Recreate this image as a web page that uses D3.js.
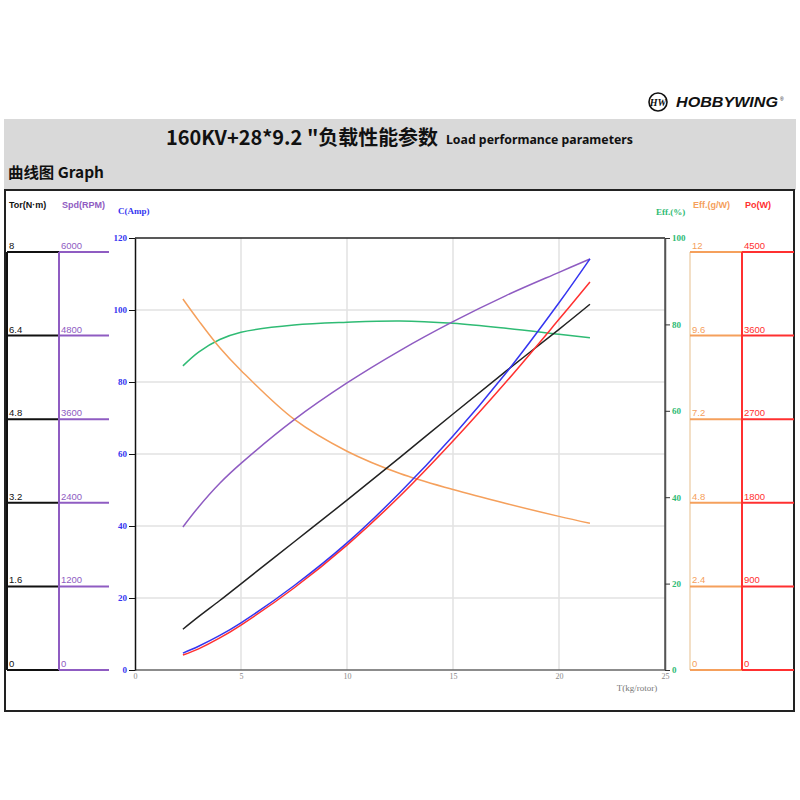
<!DOCTYPE html>
<html><head><meta charset="utf-8">
<script src="https://cdn.jsdelivr.net/npm/d3@7"></script>
<style>body{margin:0;background:#fff}svg{display:block}</style>
</head><body>
<svg id="c" width="800" height="800"></svg>
<script>
// ---- data ----
const thrust = [2.26, 3, 4, 5, 7.5, 10, 12.5, 15, 17.5, 20, 21.46];              // T (kg/rotor)
const current = [4.7, 6.6, 9.6, 13.1, 23.4, 35.3, 49.3, 65.0, 82.5, 102.0, 114.2]; // A
const power = [161, 228, 345, 484, 883, 1345, 1873, 2465, 3100, 3775, 4177];        // W
const torque = [0.78, 1.02, 1.33, 1.65, 2.45, 3.25, 4.07, 4.9, 5.72, 6.52, 7.0];   // N·m
const speed = [2053, 2340, 2680, 2965, 3590, 4120, 4585, 5000, 5374, 5708, 5900];   // RPM
const effPct = [70.4, 73.6, 76.5, 78.2, 79.85, 80.5, 80.8, 80.25, 79.1, 77.7, 76.9]; // %
const effGW = [10.65, 10.03, 9.25, 8.6, 7.2, 6.28, 5.64, 5.18, 4.78, 4.41, 4.21];    // g/W

const xTicks = [0, 5, 10, 15, 20, 25];
const cTicks = [0, 20, 40, 60, 80, 100, 120];
const effPctTicks = [0, 20, 40, 60, 80, 100];
const torTicks = [0, 1.6, 3.2, 4.8, 6.4, 8];
const spdTicks = [0, 1200, 2400, 3600, 4800, 6000];
const effGWTicks = [0, 2.4, 4.8, 7.2, 9.6, 12];
const poTicks = [0, 900, 1800, 2700, 3600, 4500];

const svg = d3.select("#c");
const COL = {blue:"#3535f0", red:"#ff3030", black:"#222", purple:"#8f5cc2", green:"#2fbb74", orange:"#f5a05c", gray:"#777"};

// header band
svg.append("rect").attr("x",4).attr("y",119).attr("width",792).attr("height",71).attr("fill","#d9d9d9");
svg.append("text").attr("x",166).attr("y",145).attr("font-family","'Noto Sans CJK SC','Noto Sans',sans-serif")
  .attr("font-weight","bold").attr("font-size",20).attr("textLength",272).attr("lengthAdjust","spacingAndGlyphs")
  .attr("fill","#111").text("160KV+28*9.2 \"负载性能参数");
svg.append("text").attr("x",446).attr("y",144).attr("font-family","'Noto Sans','DejaVu Sans',sans-serif")
  .attr("font-weight","bold").attr("font-size",13).attr("textLength",187).attr("lengthAdjust","spacingAndGlyphs")
  .attr("fill","#111").text("Load performance parameters");
svg.append("text").attr("x",8).attr("y",178).attr("font-family","'Noto Sans CJK SC','Noto Sans',sans-serif")
  .attr("font-weight","bold").attr("font-size",15).attr("textLength",96).attr("lengthAdjust","spacingAndGlyphs")
  .attr("fill","#111").text("曲线图 Graph");

// logo
const lg = svg.append("g");
lg.append("ellipse").attr("cx",658).attr("cy",102).attr("rx",9).attr("ry",9).attr("fill","none").attr("stroke","#111").attr("stroke-width",1.6);
lg.append("text").attr("x",658).attr("y",106).attr("text-anchor","middle").attr("font-family","'Liberation Serif',serif")
  .attr("font-style","italic").attr("font-weight","bold").attr("font-size",10).attr("fill","#111").text("HW");
lg.append("text").attr("x",676).attr("y",107).attr("font-family","'Liberation Sans',Arial,sans-serif")
  .attr("font-style","italic").attr("font-weight","bold").attr("font-size",14).attr("textLength",102).attr("lengthAdjust","spacingAndGlyphs")
  .attr("fill","#111").text("HOBBYWING");
lg.append("text").attr("x",780).attr("y",101).attr("font-family","sans-serif").attr("font-size",5).attr("fill","#111").text("®");

// outer box
svg.append("rect").attr("x",5).attr("y",190).attr("width",789).attr("height",521).attr("fill","none").attr("stroke","#222").attr("stroke-width",2);

// scales
const x = d3.scaleLinear().domain([0,25]).range([135,665]);
const yC = d3.scaleLinear().domain([0,120]).range([670,238]);
const yE = d3.scaleLinear().domain([0,100]).range([670,238]);
const yTor = d3.scaleLinear().domain([0,8]).range([670,252]);
const ySpd = d3.scaleLinear().domain([0,6000]).range([670,252]);
const yEG = d3.scaleLinear().domain([0,12]).range([670,252]);
const yPo = d3.scaleLinear().domain([0,4500]).range([670,252]);

// gridlines
svg.append("g").selectAll("line").data(xTicks.slice(1,-1)).join("line")
  .attr("x1",d=>x(d)).attr("x2",d=>x(d)).attr("y1",238).attr("y2",670).attr("stroke","#e2e2e2").attr("stroke-width",1.5);
svg.append("g").selectAll("line").data(cTicks.slice(1,-1)).join("line")
  .attr("x1",135).attr("x2",665).attr("y1",d=>yC(d)).attr("y2",d=>yC(d)).attr("stroke","#e2e2e2").attr("stroke-width",1.5);

// frame lines
svg.append("line").attr("x1",135).attr("x2",665).attr("y1",238).attr("y2",238).attr("stroke","#222").attr("stroke-width",1.5);
svg.append("line").attr("x1",135).attr("x2",665).attr("y1",670).attr("y2",670).attr("stroke","#666").attr("stroke-width",1.5);
svg.append("line").attr("x1",665).attr("x2",665).attr("y1",238).attr("y2",670).attr("stroke","#555").attr("stroke-width",1.5);

// left C axis
const axC = svg.append("g").attr("transform","translate(135,0)").call(d3.axisLeft(yC).tickValues(cTicks).tickSize(6).tickSizeOuter(0));
axC.select(".domain").attr("stroke","#111").attr("stroke-width",1.5);
axC.selectAll(".tick line").attr("stroke","#111");
axC.selectAll(".tick text").attr("fill",COL.blue).attr("font-family","'Liberation Serif',serif").attr("font-weight","bold").attr("font-size",9).attr("x",-8);

// right Eff% axis
const axE = svg.append("g").attr("transform","translate(665,0)").call(d3.axisRight(yE).tickValues(effPctTicks).tickSize(5).tickSizeOuter(0));
axE.select(".domain").attr("stroke","#555").attr("stroke-width",1.5);
axE.selectAll(".tick line").attr("stroke","#333");
axE.selectAll(".tick text").attr("fill",COL.green).attr("font-family","'Liberation Serif',serif").attr("font-weight","bold").attr("font-size",9).attr("x",7);

// x axis labels
const axX = svg.append("g").attr("transform","translate(0,670)").call(d3.axisBottom(x).tickValues(xTicks).tickSize(0));
axX.select(".domain").remove();
axX.selectAll(".tick text").attr("fill","#888").attr("font-family","'Liberation Serif',serif").attr("font-size",8).attr("dy","0.9em").attr("y",2);
svg.append("text").attr("x",637).attr("y",691).attr("text-anchor","middle").attr("font-family","'Liberation Serif',serif")
  .attr("font-size",9).attr("fill","#777").text("T(kg/rotor)");

// axis titles
const sans = "'Liberation Sans',Arial,sans-serif", serif = "'Liberation Serif',serif";
svg.append("text").attr("x",9).attr("y",208).attr("font-family",sans).attr("font-weight","bold").attr("font-size",9).attr("fill","#111").text("Tor(N·m)");
svg.append("text").attr("x",62).attr("y",208).attr("font-family",sans).attr("font-weight","bold").attr("font-size",9).attr("fill",COL.purple).text("Spd(RPM)");
svg.append("text").attr("x",118).attr("y",214).attr("font-family",serif).attr("font-weight","bold").attr("font-size",9).attr("fill",COL.blue).text("C(Amp)");
svg.append("text").attr("x",656).attr("y",215).attr("font-family",serif).attr("font-weight","bold").attr("font-size",9).attr("fill",COL.green).text("Eff.(%)");
svg.append("text").attr("x",693).attr("y",208).attr("font-family",sans).attr("font-weight","bold").attr("font-size",9).attr("fill",COL.orange).text("Eff.(g/W)");
svg.append("text").attr("x",745).attr("y",208).attr("font-family",sans).attr("font-weight","bold").attr("font-size",9).attr("fill",COL.red).text("Po(W)");

// side ladders
function ladder(ticks, scale, x0, x1, color, vcolor, fmt){
  const g = svg.append("g");
  g.append("line").attr("x1",x0).attr("x2",x0).attr("y1",scale(ticks[ticks.length-1])).attr("y2",scale(ticks[0]))
    .attr("stroke",vcolor).attr("stroke-width",2);
  g.selectAll("line.h").data(ticks).join("line").attr("class","h")
    .attr("x1",x0).attr("x2",x1).attr("y1",d=>scale(d)).attr("y2",d=>scale(d)).attr("stroke",color).attr("stroke-width",2);
  g.selectAll("text").data(ticks).join("text")
    .attr("x",x0+2).attr("y",d=>scale(d)-3).attr("font-family",sans).attr("font-size",9.5).attr("fill",color).text(fmt);
}
ladder(torTicks, yTor, 7, 59, "#111", "#111", d=>d);
ladder(spdTicks, ySpd, 59, 109, COL.purple, COL.purple, d=>d);
ladder(effGWTicks, yEG, 690, 742, COL.orange, "#f3dfc6", d=>d);
ladder(poTicks, yPo, 742, 794, COL.red, COL.red, d=>d);

// curves
function curve(vals, scale, color){
  const line = d3.line().x((d,i)=>x(thrust[i])).y(d=>scale(d)).curve(d3.curveCatmullRom.alpha(0.5));
  svg.append("path").datum(vals).attr("d",line).attr("fill","none").attr("stroke",color).attr("stroke-width",1.5);
}
curve(effPct, yE, COL.green);
curve(effGW, yEG, COL.orange);
curve(speed, ySpd, COL.purple);
curve(torque, yTor, COL.black);
curve(power, yPo, COL.red);
curve(current, yC, COL.blue);
</script>
</body></html>
